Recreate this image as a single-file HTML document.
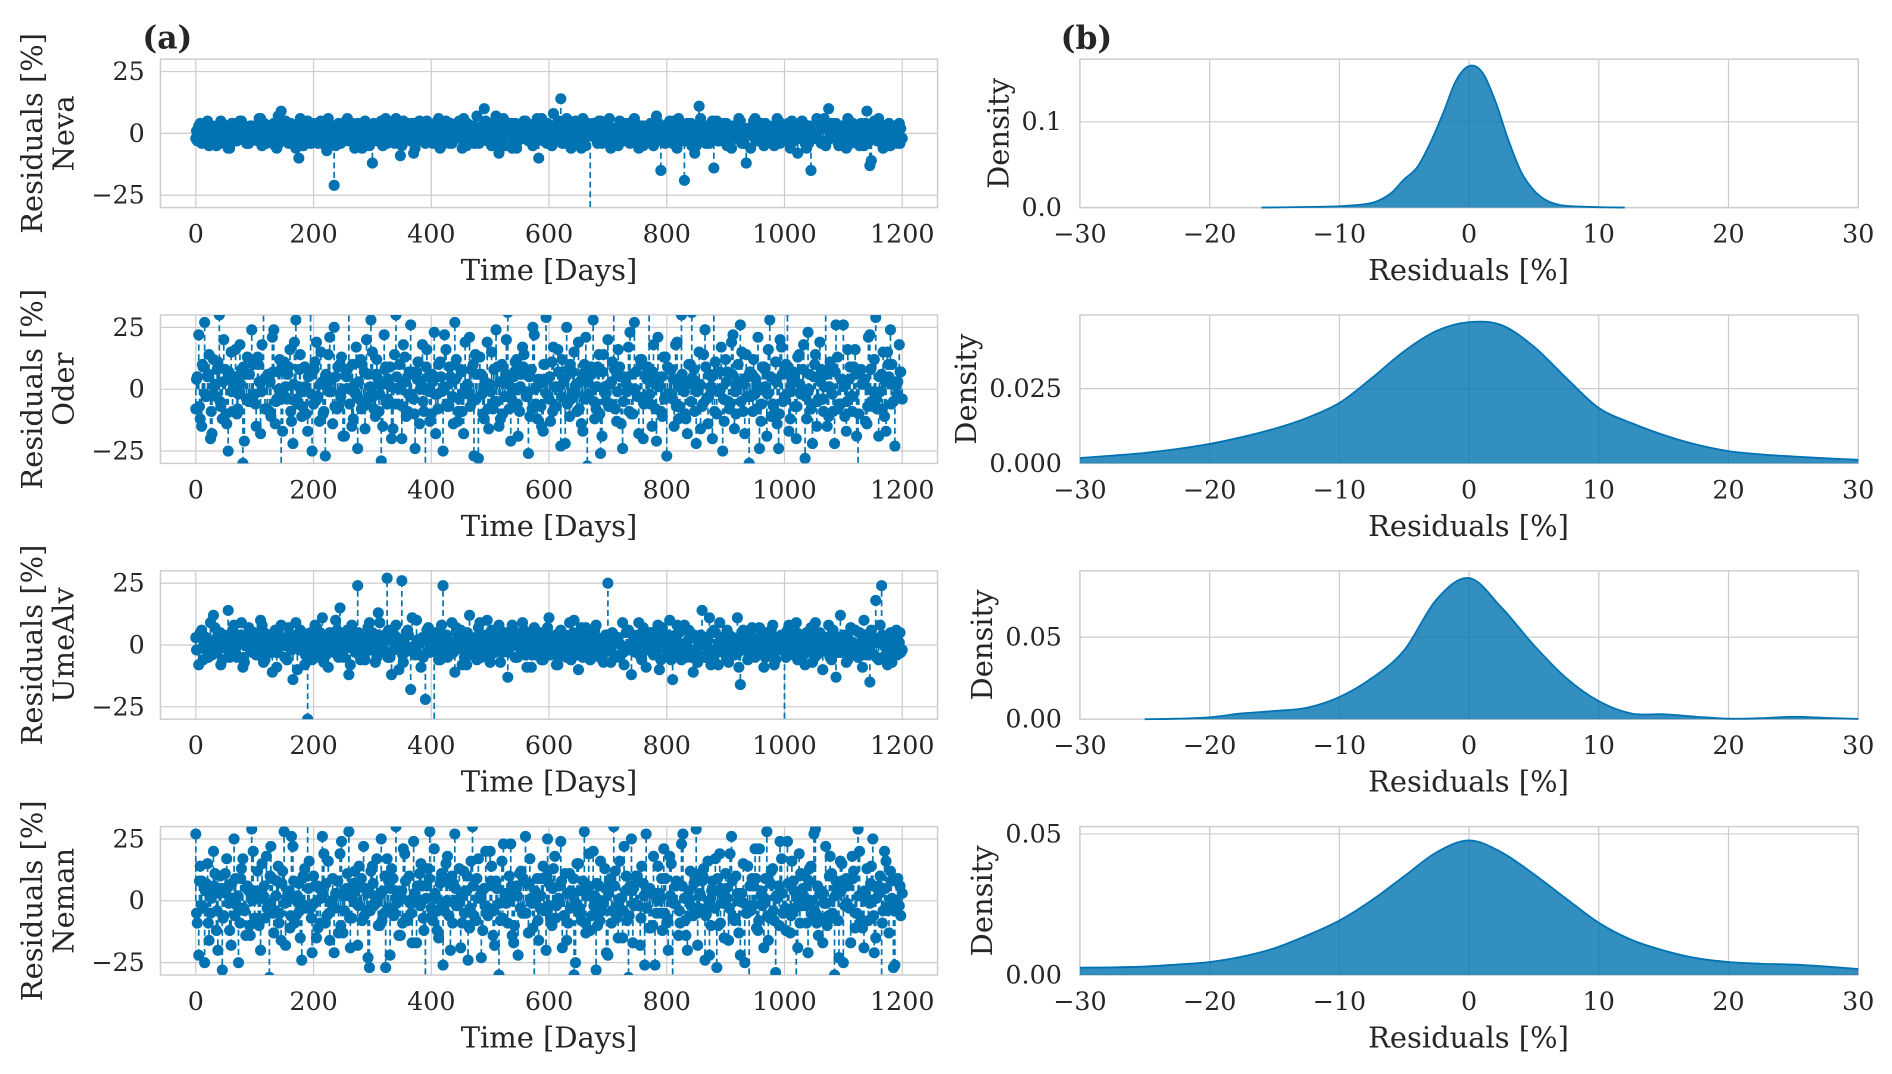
<!DOCTYPE html>
<html><head><meta charset="utf-8">
<style>
html,body{margin:0;padding:0;background:#fff;}
svg{display:block;}
text{font-family:"DejaVu Serif","Liberation Serif",serif;fill:#262626;}
</style></head>
<body>
<svg id="fig" width="1892" height="1074" viewBox="0 0 1568 890" xmlns="http://www.w3.org/2000/svg">
<text x="118" y="40" font-size="26" font-weight="bold">(a)</text>
<text x="879" y="40" font-size="26" font-weight="bold">(b)</text>
</svg>
<script>
const rivers = ["Neva","Oder","UmeAlv","Neman"];
const dayStep = 5;
const nevaRes = [-2,3,-4,1,5,-3,2,-5,0,4,-1,-6,3,2,-3,5,-2,1,-4,3,
2,-3,6,-1,-4,3,0,-5,7,9,-2,4,-3,1,-6,-10,3,-2,5,-4,
0,4,-3,2,-5,6,-1,-21,3,-4,2,5,-3,0,-6,4,1,-2,3,-5,
-12,2,-3,5,0,-4,3,-1,6,-2,-5,2,4,-3,-8,1,5,-2,-4,3,
0,-3,4,-6,2,5,-1,-4,3,0,-2,6,-5,1,3,-4,2,-1,10,-3,
4,-2,7,-8,3,-5,1,4,-2,-6,3,0,5,-3,2,-4,6,-1,-3,4,
2,-5,3,-2,14,-4,6,1,-3,5,-2,-6,3,0,-35,4,-2,5,-4,1,
3,-6,2,-1,5,-3,4,-2,0,6,-4,3,-5,1,2,-3,4,-1,-15,3,
-2,5,-4,0,6,-3,-19,4,-1,2,-5,11,-2,3,-4,1,-14,5,-3,2,
4,-2,-6,3,0,5,-4,-12,2,-1,6,-3,4,-5,1,-2,3,-4,5,0,
-3,2,-6,4,1,-2,5,-4,3,-15,-1,6,-3,2,-5,10,4,-2,0,-4,
3,-6,5,-1,2,-3,4,-5,9,-13,1,-2,6,-4,3,0,-5,2,-3,4,-2];
const nevaRes2 = [-3,4,-1,2,-5,3,0,-4,5,-2,1,-6,4,-3,2,5,-1,-4,3,0,
-2,6,-5,1,3,-3,4,-6,2,-1,5,-4,0,3,-2,6,-5,1,-3,4,
2,-4,5,-1,-7,3,0,-5,4,2,-3,6,-2,1,-4,3,-6,5,0,-2,
4,-3,1,-5,6,-1,2,-4,3,-9,5,-2,0,4,-6,1,3,-3,5,-1,
-4,2,6,-5,1,-2,4,-3,0,5,-6,3,-1,2,-4,7,-3,1,5,-2,
-5,3,0,-4,6,-1,2,-6,4,-3,1,5,-2,0,-5,3,-10,6,-1,4,
-3,8,-2,5,-4,1,3,-6,0,4,-2,6,-5,2,-1,3,-4,5,-3,0,
6,-2,1,-5,4,-3,2,-4,5,-1,-6,3,0,-2,4,-5,7,-3,1,-4,
3,-1,5,-6,2,0,-3,4,-5,-8,1,6,-2,3,-4,5,-1,-3,2,4,
-5,1,3,-2,6,-4,0,2,-6,5,-1,3,-3,4,-2,1,-5,6,-4,0,
2,-3,5,-1,-8,4,0,-6,3,1,-2,5,-4,6,-3,2,-1,4,-5,3,
-2,6,-4,1,3,-5,0,4,-2,-11,5,-3,2,-6,1,4,-1,3,-4,2];
const nevaRes3 = [1,-3,2,-1,4,-2,0,3,-4,1,2,-3,4,-1,0,-2,3,-4,2,1,
-1,3,-2,4,0,-3,1,2,-4,3,-1,0,4,-2,1,-3,2,-1,3,-4,
0,2,-3,1,4,-1,-2,3,0,-4,2,1,-3,4,-1,0,3,-2,1,-4,
2,-1,3,0,-3,4,-2,1,-1,3,-4,2,0,-2,4,-3,1,2,-1,0,
-3,4,1,-2,3,0,-4,2,-1,1,3,-3,4,-2,0,1,-4,3,2,-1,
4,-2,0,3,-3,1,-1,4,-4,2,0,-2,3,1,-3,4,-1,0,2,-4,
1,3,-2,0,4,-3,2,-1,1,-4,3,0,-2,4,-1,2,-3,1,0,3,
-4,2,1,-1,3,-2,0,4,-3,1,2,-4,3,-1,0,2,-2,4,-3,1,
0,-1,3,-4,2,1,-3,0,4,-2,1,3,-1,-4,2,0,3,-3,1,-2,
4,0,-2,3,-1,1,-4,2,0,3,-3,4,-1,-2,1,2,-4,0,3,-1,
-2,4,1,-3,0,2,-1,3,-4,1,0,-2,4,-3,2,1,-1,3,-4,0,
2,-3,1,4,-1,0,-2,3,-4,2,1,-1,4,-3,0,2,-2,1,3,-4];
const oderRes = [-8,22,-15,27,5,-20,12,-3,30,-12,8,-25,15,2,-10,18,-30,6,-5,24,
-2,13,-18,35,4,-9,21,-14,7,-33,11,-4,16,-22,28,1,-11,9,-17,32,
-6,19,-13,3,-27,14,-1,25,-8,10,-19,6,38,-15,2,-24,12,-7,20,-3,
15,-11,4,-29,22,-6,9,-16,30,0,-20,13,-9,26,-4,7,-14,18,-35,5,
-10,23,-2,11,-25,16,-7,3,27,-13,8,-18,1,21,-5,14,-28,6,-12,19,
2,-8,24,-15,10,-3,31,-21,5,12,-9,17,-1,-26,8,22,-12,4,-17,29,
-4,11,-7,16,-23,3,25,-11,7,-2,19,-14,10,-31,6,28,-8,14,-19,1,
20,-6,33,-13,9,-24,4,17,-10,27,-3,12,-20,6,36,-15,2,21,-9,13,
-27,8,-4,18,-12,30,-1,-18,10,4,-22,15,-7,24,-14,1,34,-10,7,-25,
12,-5,19,-16,3,26,-9,14,-30,6,-2,21,-13,9,-19,28,-6,11,-24,17,
-3,32,-12,7,-20,14,0,-28,23,-8,5,-15,19,-4,37,-11,9,-22,13,-6,
26,-17,4,-9,16,-33,8,2,-14,22,-7,29,-19,6,-11,15,24,-5,3,18,-4];
const oderRes2 = [5,-12,9,-3,14,-18,2,11,-7,20,-14,4,-9,16,-2,8,-21,13,-5,10,
-15,3,18,-8,6,-11,24,-4,12,-17,1,9,-13,19,-6,14,-1,-10,7,-25,
11,-3,15,-9,2,21,-14,5,-7,13,-19,8,0,-12,17,-4,10,-16,6,28,
-8,12,-2,-15,9,4,-20,14,-6,1,18,-11,7,-3,-24,11,2,-9,16,-13,
3,-18,10,-1,22,-7,5,-14,12,-4,-9,19,-2,8,-27,6,13,-10,1,-16,
15,-5,9,-12,3,20,-8,-1,11,-19,6,14,-3,-11,25,-6,2,-15,10,4,
-13,17,-7,1,12,-22,8,-4,15,-9,3,-17,21,-2,6,-12,9,-26,14,-5,
2,11,-8,16,-14,5,-1,23,-10,7,-18,12,-3,9,-6,18,-21,4,-11,13,
-2,8,-15,19,-7,3,-12,10,31,-9,1,-16,14,-4,6,-20,11,-1,17,-13,
7,-6,22,-10,2,15,-18,5,-3,12,-8,-24,9,1,16,-11,4,-14,20,-5,
10,-17,3,-7,13,-2,18,-12,6,-22,14,-4,8,1,-15,11,-9,26,-6,4,
-11,16,-3,9,-19,7,2,-13,21,-5,12,-8,-1,15,-17,5,10,-23,3,7];
const oderRes3 = [4,-7,10,-2,6,-9,1,8,-5,3,-10,7,-1,5,-8,2,9,-4,6,-3,
-6,10,-1,4,-8,3,7,-5,0,9,-3,6,-9,2,-4,8,-7,1,5,-2,
8,-4,2,-10,6,-1,4,-7,9,-3,0,5,-6,10,-2,3,-8,7,-5,1,
-3,6,-9,2,8,-4,1,-6,5,10,-7,3,-2,7,-10,4,0,-5,9,-1,
6,-2,-8,5,1,-6,9,-3,4,-9,7,-1,2,-7,10,-4,6,-2,3,-8,
-1,8,-5,3,-10,6,2,-4,7,-6,1,9,-3,5,-8,0,4,-7,10,-2,
5,-9,1,7,-3,4,-6,10,-1,2,-8,6,-4,3,9,-5,1,-10,7,-2,
-7,3,8,-1,5,-5,2,-9,6,0,-3,10,-6,4,-2,7,-8,1,5,-4,
9,-2,4,-7,1,6,-10,3,-5,8,-1,2,-6,9,-3,5,-9,7,0,-4,
3,-8,6,-1,10,-5,2,-3,7,-9,4,1,-6,8,-2,5,-7,3,-10,6,
-4,9,-1,5,-7,2,8,-3,0,-6,10,-5,3,-9,6,1,-2,7,-8,4,
1,-5,9,-3,6,-10,2,4,-7,8,-1,-4,5,-8,3,10,-6,2,-2,7];
const umeRes = [3,-8,6,1,-4,9,12,-2,5,-6,2,14,-3,8,-5,4,-9,1,7,-2,
5,-4,10,-7,3,0,-11,6,-3,8,2,-6,4,-14,9,-1,3,-8,-30,5,
-2,7,-5,11,1,-9,4,-3,6,15,-4,2,-12,8,0,24,-6,3,-2,9,
5,-7,13,-1,4,27,-5,2,8,-10,26,-3,6,-18,-1,10,-4,3,-22,7,
2,-35,5,-6,24,1,-3,9,-11,4,6,-2,-8,12,-4,3,7,-5,0,10,
-7,4,-1,8,-3,5,-13,2,6,-5,1,9,-4,3,-9,7,-2,5,-6,4,
11,-3,2,-8,6,0,-5,9,-2,4,-10,7,3,-1,-6,5,8,-4,2,-3,
25,-7,4,1,-5,9,-2,6,-12,3,0,-4,7,-9,2,5,-1,8,-6,3,
-3,10,-14,4,1,-6,8,-2,5,-11,3,0,14,-5,2,-8,6,-3,9,-1,
4,-7,2,-4,11,-16,6,1,-3,7,-5,3,0,-9,5,-2,8,-6,2,4,
-35,6,-3,1,9,-5,3,-8,2,7,-1,-4,5,-10,3,8,-6,1,-3,12,
4,-7,2,-2,6,-5,1,10,-4,-15,3,18,-6,24,2,-8,5,-3,6,1,-2];
const umeRes2 = [-2,5,-6,3,1,-4,7,-1,-8,4,2,-5,6,-3,0,9,-7,3,-2,5,
-4,1,8,-6,2,-3,5,-9,4,0,-5,7,-2,3,-10,6,1,-4,2,-6,
8,-3,4,-7,0,5,-2,10,-5,3,-1,6,-8,2,4,-4,1,-6,7,-2,
3,-5,9,0,-3,6,-12,4,-1,2,-7,5,-2,11,-4,1,-9,3,6,-3,
-1,4,-6,8,2,-5,0,-3,7,-1,-8,5,3,-4,1,-6,9,-2,4,-5,
6,-3,0,-7,4,2,-1,8,-5,3,-2,6,-9,1,5,-4,2,-6,3,7,
-4,1,-8,5,-2,4,0,-6,10,-3,2,-5,7,-1,-4,6,-3,1,-7,4,
-2,5,-5,3,0,-8,6,-1,4,-3,9,-6,2,-2,5,-4,1,-10,7,-1,
4,-6,2,8,-3,0,-5,6,-2,3,-7,4,1,-4,11,-3,5,-8,2,-1,
6,-4,3,-2,-9,5,0,-6,4,2,-3,7,-1,-5,3,6,-8,1,-2,4,
-5,8,-1,3,-6,2,-4,5,0,-7,9,-3,4,-2,1,-5,6,-13,3,-1,
2,-6,7,-3,0,5,-9,4,-2,6,-4,1,8,-5,3,-1,-7,5,2,-3];
const umeRes3 = [-2,4,-1,3,-5,0,2,-3,5,-1,1,-4,3,-2,0,4,-5,2,1,-3,
3,-1,-4,5,0,-2,4,-3,1,2,-5,3,-1,0,4,-2,5,-4,1,-1,
-3,2,5,-1,-4,1,3,-2,0,4,-5,2,-1,3,-3,5,0,-4,2,1,
4,-3,0,-1,2,-5,5,-2,3,1,-4,0,4,-1,-3,2,1,-5,3,-2,
0,5,-3,2,-1,4,-4,1,-2,3,0,-5,5,-1,2,-3,4,-2,1,0,
-4,3,1,-2,5,-1,-3,4,0,-5,2,3,-1,1,-4,5,-2,0,3,-3,
2,-1,4,-5,0,3,-2,1,5,-4,-1,2,-3,4,0,-2,3,-5,1,4,
-1,3,-4,2,0,-3,5,-2,1,-1,4,-5,3,0,-2,2,-4,5,-1,3,
1,-2,3,-4,5,0,-1,2,-5,4,-3,1,0,3,-2,5,-4,-1,2,-3,
-5,4,0,2,-3,1,-2,5,-1,3,-4,0,4,-3,1,2,-5,3,-1,0,
3,-2,1,-4,5,-1,0,-3,2,4,-5,1,-2,3,0,-4,5,-1,2,-3,
0,4,-3,1,-1,5,-4,2,-2,0,3,-5,1,4,-1,-3,2,0,-4,5];
const nemanRes = [27,-22,8,-25,15,-5,20,-12,3,-28,11,6,-18,25,-2,-9,17,-14,4,29,
-7,12,-20,2,18,-31,9,-4,14,-16,28,1,-11,22,-6,7,-24,13,35,-3,
10,-15,5,26,-9,16,-1,-21,8,19,-13,3,28,-7,12,-18,6,22,-4,-27,
14,2,-10,25,-5,17,-22,9,30,-14,4,19,-8,-1,24,-17,11,6,-35,13,
-3,21,-12,7,-26,15,-6,10,27,-2,-19,12,4,-11,30,-8,17,-23,5,-4,
20,-14,8,-30,16,2,-9,23,-17,6,11,-5,26,-13,1,-37,9,-3,14,-20,
7,-10,18,-1,24,-6,-16,11,3,-25,15,-8,28,2,-12,20,-28,6,-4,13,
-22,9,30,-7,16,-15,4,-31,25,-2,10,-18,7,27,-11,3,-26,14,-5,21,
-9,18,-35,6,-14,23,1,-20,12,-6,29,-3,8,-24,16,-10,4,-27,19,-1,
11,-16,26,-8,3,-22,15,-5,-38,9,21,-12,2,-19,28,-7,13,-29,6,17,
-4,24,-13,8,-34,19,-2,10,-21,14,27,-9,3,-17,22,-6,11,-30,5,16,
-25,9,-3,18,-11,29,-8,-19,13,-1,25,-15,6,-36,20,-4,12,-27,8,-2,3];
const nemanRes2 = [-9,14,-3,7,-16,2,11,-20,5,-6,17,-12,1,9,-25,13,-4,6,-14,20,
3,-10,15,-7,-1,22,-13,8,-5,12,-18,4,26,-9,2,-15,10,-3,16,-21,
6,-11,1,19,-6,-16,9,3,-13,24,-4,11,-19,7,-1,14,-8,5,-23,12,
-2,17,-10,4,-27,8,13,-5,2,-14,21,-7,10,-17,3,-1,15,-12,6,28,
-8,1,-15,11,-4,18,-20,7,-2,13,-9,4,-24,16,-6,9,2,-12,20,-3,
14,-18,5,-8,23,-1,10,-14,3,-22,12,-5,7,17,-11,1,-16,9,-4,25,
-7,13,-2,6,-19,11,-9,4,-30,15,-3,8,-13,19,-6,2,-10,16,-1,-21,
8,-4,12,-15,1,22,-8,6,-17,10,-2,14,-26,5,-11,18,-5,3,-12,9,
-20,15,-1,7,-9,27,-14,4,-6,11,-18,2,13,-3,-22,8,17,-10,5,-15,
1,19,-7,10,-13,3,-25,14,-4,6,-11,21,-2,9,-16,12,-8,1,24,-5,
-12,7,16,-3,-19,11,2,-9,13,-6,29,-14,4,-1,-10,18,-7,8,-23,15,
-2,6,-17,12,-5,20,-11,3,-8,14,-21,5,10,-4,16,-13,1,-26,9,-6];
const nemanRes3 = [-5,8,-2,4,-9,1,6,-4,10,-7,3,-1,7,-6,2,9,-3,5,-10,0,
4,-8,1,6,-3,10,-5,2,-9,7,-1,3,-6,8,0,-4,9,-2,5,-7,
-1,6,-9,3,7,-5,0,-3,8,-10,2,5,-7,1,4,-2,9,-6,3,-4,
7,-1,2,-8,10,-3,5,-6,-1,4,-9,8,0,-5,3,6,-2,-7,1,9,
-6,3,-4,9,-2,0,7,-9,5,-1,2,-5,10,-3,6,-8,1,4,-2,-6,
8,-4,5,-1,-7,3,0,6,-10,2,-3,9,-5,7,-1,4,-8,2,-4,10,
-2,5,-7,1,8,-6,3,-3,9,-1,-5,4,-9,6,2,-2,7,-8,0,5,
3,-9,6,-2,1,-4,10,-6,4,-1,8,-7,2,-3,5,-10,3,0,9,-5,
-7,2,-1,8,-4,6,-8,1,-2,7,-5,3,10,-6,0,4,-3,9,-9,2,
5,-3,8,-7,0,3,-1,-5,6,-2,9,-8,4,1,-6,7,-4,2,-10,3,
-3,7,-6,4,1,-9,5,-2,8,0,-4,6,-7,3,-1,10,-5,2,-8,4,
6,-1,-3,9,-5,2,-8,4,0,7,-6,1,3,-9,5,-2,8,-4,-1,6];
const timeTicks = [0,200,400,600,800,1000,1200];
const resTicks = [-25,0,25];
const resTickLabels = ["\u221225","0","25"];
const kdeXTicks = [-30,-20,-10,0,10,20,30];
const kdeXTickLabels = ["\u221230","\u221220","\u221210","0","10","20","30"];
const nevaKdeX = [-16,-14,-12,-10,-8,-7,-6,-5,-4,-3,-2,-1,0,1,2,3,4,5,6,7,8,10,12];
const nevaKdeY = [0,0.0004,0.0008,0.0015,0.004,0.008,0.017,0.033,0.047,0.075,0.11,0.148,0.165,0.158,0.125,0.08,0.042,0.02,0.008,0.003,0.0015,0.0005,0];
const oderKdeX = [-30,-27.5,-25,-22.5,-20,-17.5,-15,-12.5,-10,-7.5,-5,-2.5,0,2.5,5,7.5,10,12.5,15,17.5,20,22.5,25,27.5,30];
const oderKdeY = [0.0018,0.0026,0.0035,0.0048,0.0065,0.0088,0.0116,0.0152,0.0202,0.0285,0.0375,0.0443,0.0472,0.0462,0.039,0.0285,0.0185,0.0135,0.0095,0.0063,0.0041,0.003,0.0023,0.0017,0.0012];
const umeKdeX = [-25,-22.5,-20,-17.5,-15,-12.5,-10,-7.5,-5,-2.5,0,2.5,5,7.5,10,12.5,15,17.5,20,22.5,25,27.5,30];
const umeKdeY = [0,0.0003,0.0012,0.0035,0.005,0.007,0.0135,0.025,0.042,0.073,0.086,0.068,0.045,0.025,0.011,0.0035,0.003,0.0015,0.0003,0.0006,0.0015,0.0008,0.0002];
const nemanKdeX = [-30,-27.5,-25,-22.5,-20,-17.5,-15,-12.5,-10,-7.5,-5,-2.5,0,2.5,5,7.5,10,12.5,15,17.5,20,22.5,25,27.5,30];
const nemanKdeY = [0.0026,0.0027,0.003,0.0037,0.0046,0.0065,0.0095,0.014,0.0193,0.0265,0.035,0.0435,0.0477,0.0435,0.0357,0.027,0.0185,0.0125,0.0087,0.006,0.0046,0.004,0.0037,0.003,0.0021];
const densMax = [0.173,0.0496,0.0904,0.0526];
const densTicks = [[0,0.1],[0,0.025],[0,0.05],[0,0.05]];
const densTickLabels = [["0.0","0.1"],["0.000","0.025"],["0.00","0.05"],["0.00","0.05"]];

const resSeries = [nevaRes, oderRes, umeRes, nemanRes];
const resSeries2 = [nevaRes2, oderRes2, umeRes2, nemanRes2];
const resSeries3 = [nevaRes3, oderRes3, umeRes3, nemanRes3];
const kdeX = [nevaKdeX, oderKdeX, umeKdeX, nemanKdeX];
const kdeY = [nevaKdeY, oderKdeY, umeKdeY, nemanKdeY];

const NS = "http://www.w3.org/2000/svg";
const svg = document.getElementById("fig");
const BLUE = "#0173b2", GRID = "#cccccc";
function mk(tag, attrs, parent){ const e=document.createElementNS(NS,tag); for(const k in attrs) e.setAttribute(k,attrs[k]); (parent||svg).appendChild(e); return e; }
function txt(s, attrs, parent){ const e=mk("text",attrs,parent); e.textContent=s; return e; }

const L = {x0:133,x1:777}, R = {x0:895,x1:1540};
const rowTop = [49,261,473,685], H = 123;
const tStart=-60, tEnd=1260;
const TF = 21, LF = 24;

function smoothPath(pts){
  let d = "M"+pts[0][0]+","+pts[0][1];
  for(let i=0;i<pts.length-1;i++){
    const p0=pts[Math.max(0,i-1)], p1=pts[i], p2=pts[i+1], p3=pts[Math.min(pts.length-1,i+2)];
    const c1x=p1[0]+(p2[0]-p0[0])/6, c1y=p1[1]+(p2[1]-p0[1])/6;
    const c2x=p2[0]-(p3[0]-p1[0])/6, c2y=p2[1]-(p3[1]-p1[1])/6;
    d += " C"+c1x+","+c1y+" "+c2x+","+c2y+" "+p2[0]+","+p2[1];
  }
  return d;
}

for(let r=0;r<4;r++){
  const top=rowTop[r], bot=top+H;
  // ---------- left panel ----------
  const g = mk("g",{});
  
  
  const sx = t => L.x0 + (t - tStart)/(tEnd - tStart)*(L.x1-L.x0);
  const sy = v => top + (30 - v)/60*H;
  const cp = mk("clipPath",{id:"clipL"+r},g);
  mk("rect",{x:L.x0,y:top,width:L.x1-L.x0,height:H},cp);
  mk("rect",{x:L.x0,y:top,width:L.x1-L.x0,height:H,fill:"none",stroke:GRID,"stroke-width":1.2},g);
  timeTicks.forEach(t=>{
    mk("line",{x1:sx(t),x2:sx(t),y1:top,y2:bot,stroke:GRID,"stroke-width":1},g);
    const lb = txt(String(t),{x:sx(t),y:bot+29,"font-size":TF,"text-anchor":"middle"},g);
    
    
  });
  resTicks.forEach((v,i)=>{
    mk("line",{x1:L.x0,x2:L.x1,y1:sy(v),y2:sy(v),stroke:GRID,"stroke-width":1},g);
    const lb = txt(resTickLabels[i],{x:120,y:sy(v)+7,"font-size":TF,"text-anchor":"end"},g);
    
    
  });
  const dg = mk("g",{"clip-path":"url(#clipL"+r+")"},g);
  const sets = [[resSeries[r],0],[resSeries2[r],dayStep/2],[resSeries3[r],dayStep/4]];
  sets.forEach(([vals,off])=>{
    vals.forEach((v,i)=>{
      const x = sx(i*dayStep+off);
      const st = mk("line",{x1:x,x2:x,y1:sy(0),y2:sy(v),stroke:BLUE,"stroke-width":1.4,"stroke-dasharray":"5,3"},dg);
      
      
    });
  });
  sets.forEach(([vals,off])=>{
    vals.forEach((v,i)=>{
      const c = mk("circle",{cx:sx(i*dayStep+off),cy:sy(v),r:4.6,fill:BLUE},dg);
      
      
    });
  });
  const xl = txt("Time [Days]",{x:455,y:bot+60,"font-size":LF,"text-anchor":"middle"},g);
  
  
  const cy = (top+bot)/2;
  const yl1 = txt("Residuals [%]",{x:0,y:0,"font-size":LF,"text-anchor":"middle",transform:"translate(35,"+cy+") rotate(-90)"},g);
  
  
  const yl2 = txt(rivers[r],{x:0,y:0,"font-size":LF,"text-anchor":"middle",transform:"translate(61,"+cy+") rotate(-90)"},g);
  
  

  // ---------- right panel ----------
  const g2 = mk("g",{});
  
  
  const kx = v => R.x0 + (v + 30)/60*(R.x1-R.x0);
  const ky = d => bot - d/densMax[r]*H;
  mk("rect",{x:R.x0,y:top,width:R.x1-R.x0,height:H,fill:"none",stroke:GRID,"stroke-width":1.2},g2);
  kdeXTicks.forEach((v,i)=>{
    mk("line",{x1:kx(v),x2:kx(v),y1:top,y2:bot,stroke:GRID,"stroke-width":1},g2);
    const lb = txt(kdeXTickLabels[i],{x:kx(v),y:bot+29,"font-size":TF,"text-anchor":"middle"},g2);
    
    
  });
  densTicks[r].forEach((v,i)=>{
    mk("line",{x1:R.x0,x2:R.x1,y1:ky(v),y2:ky(v),stroke:GRID,"stroke-width":1},g2);
    const lb = txt(densTickLabels[r][i],{x:880,y:ky(v)+7,"font-size":TF,"text-anchor":"end"},g2);
    
    
  });
  const xs = kdeX[r], ys = kdeY[r];
  const pts = xs.map((x,i)=>[kx(x), ky(ys[i])]);
  const line = smoothPath(pts);
  const fillD = line + " L"+kx(xs[xs.length-1])+","+bot+" L"+kx(xs[0])+","+bot+" Z";
  const f = mk("path",{d:fillD,fill:BLUE,"fill-opacity":0.8,stroke:"none"},g2);
  
  
  const ln = mk("path",{d:line,fill:"none",stroke:BLUE,"stroke-width":1.5},g2);
  
  
  const xl2 = txt("Residuals [%]",{x:1217,y:bot+60,"font-size":LF,"text-anchor":"middle"},g2);
  
  
  const dx = [836,809,822,822][r];
  const dl = txt("Density",{x:0,y:0,"font-size":LF,"text-anchor":"middle",transform:"translate("+dx+","+cy+") rotate(-90)"},g2);
  
  
}
</script>
</body></html>
